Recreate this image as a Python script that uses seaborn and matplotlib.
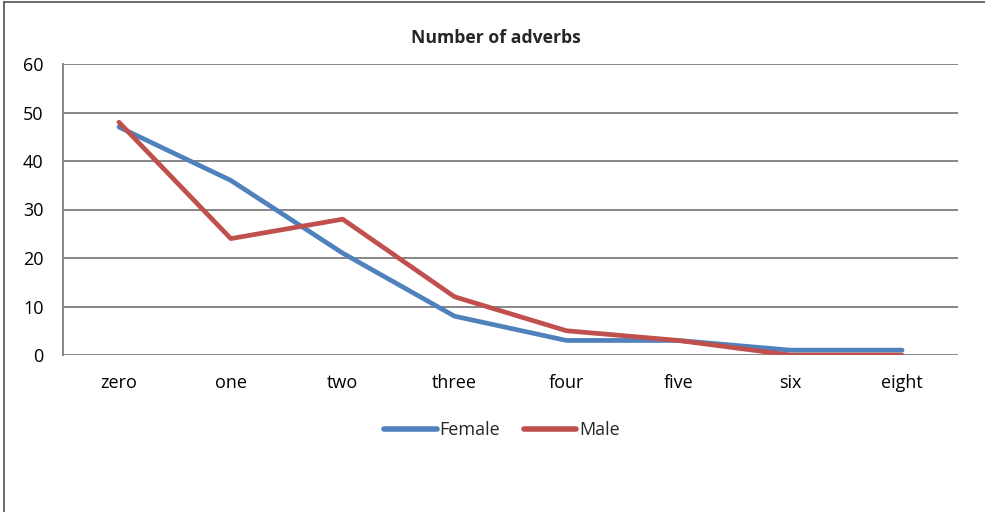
import matplotlib
matplotlib.use("Agg")
import matplotlib.pyplot as plt
from matplotlib.lines import Line2D
import seaborn as sns
import pandas as pd

categories = ["zero", "one", "two", "three", "four", "five", "six", "eight"]
female = [47, 36, 21, 8, 3, 3, 1, 1]
male = [48, 24, 28, 12, 5, 3, 0, 0]
y_ticks = [0, 10, 20, 30, 40, 50, 60]
title = "Number of adverbs"

df = pd.DataFrame({
    "pos": list(range(len(categories))) * 2,
    "value": female + male,
    "series": ["Female"] * len(female) + ["Male"] * len(male),
})

sns.set_theme(style="white")
plt.rcParams["font.family"] = ["Open Sans", "DejaVu Sans"]

W, H = 985, 512
fig = plt.figure(figsize=(W / 100, H / 100), dpi=100)
ax = fig.add_axes([63 / W, 1 - 355 / H, (958 - 63) / W, (355 - 64) / H])

grid_color = "#868686"
for t in y_ticks:
    ax.axhline(t, color=grid_color, lw=1.4, zorder=0)

sns.lineplot(
    data=df, x="pos", y="value", hue="series",
    palette={"Female": "#4F81BD", "Male": "#C0504D"},
    linewidth=3.4, ax=ax, legend=False, sort=False,
)
for line in ax.get_lines():
    line.set_solid_capstyle("round")
    line.set_solid_joinstyle("round")

ax.set_xlim(-0.5, len(categories) - 0.5)
ax.set_ylim(0, 60)
ax.set_xticks(range(len(categories)))
ax.set_xticklabels(categories)
ax.set_yticks(y_ticks)
ax.set_xlabel("")
ax.set_ylabel("")
ax.tick_params(axis="both", length=0, labelsize=13, colors="black")
ax.tick_params(axis="x", pad=14)
ax.tick_params(axis="y", pad=14)

for side in ["top", "right", "bottom"]:
    ax.spines[side].set_visible(False)
ax.spines["left"].set_color(grid_color)
ax.spines["left"].set_linewidth(1.4)

fig.text(496 / W, 1 - 38 / H, title, ha="center", va="center",
         fontsize=12.7, fontweight="bold")

handles = [
    Line2D([], [], color="#4F81BD", lw=4, solid_capstyle="round"),
    Line2D([], [], color="#C0504D", lw=4, solid_capstyle="round"),
]
fig.legend(handles, ["Female", "Male"], loc="center",
           bbox_to_anchor=(502 / W, 1 - 430 / H), ncol=2, frameon=False,
           fontsize=13, handlelength=2.9, handletextpad=0.15,
           columnspacing=1.3)

# outer chart frame (left and top edges)
fig.add_artist(Line2D([4 / W, 4 / W], [0, 1 - 2 / H], color="#505050", lw=1.2,
                      transform=fig.transFigure))
fig.add_artist(Line2D([4 / W, 1], [1 - 2 / H, 1 - 2 / H], color="#505050", lw=1.2,
                      transform=fig.transFigure))

fig.savefig("out.png", dpi=100)
